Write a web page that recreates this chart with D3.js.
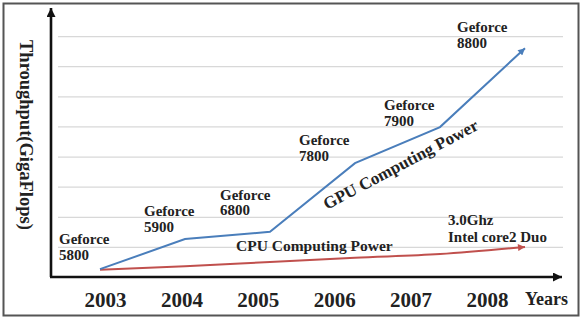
<!DOCTYPE html>
<html>
<head>
<meta charset="utf-8">
<script src="https://cdn.jsdelivr.net/npm/d3@7"></script>
<style>
  html, body { margin: 0; padding: 0; background: #fff; }
  svg { display: block; font-family: "Liberation Serif", "Times New Roman", serif; }
</style>
</head>
<body>
<svg id="viz" width="583" height="320"></svg>
<script>
// data (grid step = 50 units, values are estimates)
const years = [2003, 2004, 2005, 2006, 2007, 2008];
const gpuPower = [13, 63, 75, 189, 249, 380];
const cpuPower = [12, 18, 25, 32, 38, 50];
const gpuNames = ["5800", "5900", "6800", "7800", "7900", "8800"];
const gridTicks = [50, 100, 150, 200, 250, 300, 350, 400];

const svg = d3.select("#viz");
const ink = "#222";

// outer frame
svg.append("rect")
  .attr("x", 3.5).attr("y", 3.5)
  .attr("width", 575).attr("height", 312)
  .attr("fill", "#fff")
  .attr("stroke", "#555")
  .attr("stroke-width", 2);

const x = d3.scaleLinear().domain([2003, 2008]).range([100, 525]);
const xLabel = d3.scaleLinear().domain([2003, 2008]).range([105, 487]);
const y = d3.scaleLinear().domain([0, 450]).range([277, 6]);

// arrow markers
const defs = svg.append("defs");
function marker(id, color, w, h) {
  defs.append("marker")
    .attr("id", id)
    .attr("viewBox", "0 0 10 10")
    .attr("refX", 10).attr("refY", 5)
    .attr("markerUnits", "userSpaceOnUse")
    .attr("markerWidth", w).attr("markerHeight", h)
    .attr("orient", "auto")
    .append("path")
    .attr("d", "M0,0 L10,5 L0,10 Z")
    .attr("fill", color);
}
marker("axisArrow", "#111", 12, 9);
marker("gpuArrow", "#4a7ebb", 9, 7);
marker("cpuArrow", "#c0504d", 9, 7);

// gridlines via axis
const grid = svg.append("g")
  .attr("transform", "translate(58,0)")
  .call(d3.axisRight(y).tickValues(gridTicks).tickSize(505).tickFormat(""));
grid.select(".domain").remove();
grid.selectAll("line").attr("stroke", "#d8d8d8").attr("stroke-width", 1.2);

// axes with arrows
svg.append("line")
  .attr("x1", 51).attr("y1", 277).attr("x2", 51).attr("y2", 8)
  .attr("stroke", "#111").attr("stroke-width", 2.6)
  .attr("marker-end", "url(#axisArrow)");
svg.append("line")
  .attr("x1", 50).attr("y1", 277).attr("x2", 562).attr("y2", 277)
  .attr("stroke", "#111").attr("stroke-width", 2.6)
  .attr("marker-end", "url(#axisArrow)");

// year labels
const xAxis = svg.append("g")
  .attr("transform", "translate(0,277)")
  .call(d3.axisBottom(xLabel).tickValues(years).tickSize(0).tickFormat(d3.format("d")));
xAxis.select(".domain").remove();
xAxis.selectAll("text")
  .attr("y", 30).attr("dy", 0)
  .attr("fill", ink)
  .style("font-family", "'Liberation Serif', serif")
  .style("font-weight", "bold")
  .style("font-size", "21px");

svg.append("text")
  .attr("x", 525).attr("y", 305)
  .attr("fill", ink)
  .style("font-weight", "bold").style("font-size", "18px")
  .text("Years");

// y title
svg.append("text")
  .attr("transform", "translate(20,40) rotate(90)")
  .attr("fill", ink)
  .style("font-weight", "bold").style("font-size", "18.5px")
  .text("Throughput(GigaFlops)");

// series
const line = d3.line().x((d, i) => x(years[i])).y(d => y(d));

svg.append("path")
  .datum(cpuPower)
  .attr("d", line.curve(d3.curveMonotoneX))
  .attr("fill", "none")
  .attr("stroke", "#c0504d").attr("stroke-width", 2)
  .attr("marker-end", "url(#cpuArrow)");

svg.append("path")
  .datum(gpuPower)
  .attr("d", line.curve(d3.curveLinear))
  .attr("fill", "none")
  .attr("stroke", "#4a7ebb").attr("stroke-width", 2)
  .attr("marker-end", "url(#gpuArrow)");

// geforce labels, offset from each point
const labelOffsets = [[-41, -25], [-41, -23], [-50, -32], [-56, -18], [-56, -17], [-68, -16]];
const labels = svg.append("g")
  .attr("fill", ink)
  .style("font-weight", "bold").style("font-size", "15px");
gpuNames.forEach((name, i) => {
  const t = labels.append("text")
    .attr("x", x(years[i]) + labelOffsets[i][0])
    .attr("y", y(gpuPower[i]) + labelOffsets[i][1]);
  t.append("tspan").text("Geforce");
  t.append("tspan")
    .attr("x", x(years[i]) + labelOffsets[i][0])
    .attr("dy", 15.5)
    .text(name);
});

// cpu end label
const cpuLbl = svg.append("text")
  .attr("fill", ink)
  .style("font-weight", "bold").style("font-size", "15px");
cpuLbl.append("tspan").attr("x", 448).attr("y", 225).text("3.0Ghz");
cpuLbl.append("tspan").attr("x", 448).attr("y", 242).text("Intel core2 Duo");

// series names
svg.append("text")
  .attr("x", 236).attr("y", 251)
  .attr("fill", ink)
  .style("font-weight", "bold").style("font-size", "15.5px")
  .text("CPU Computing Power");

svg.append("text")
  .attr("transform", "translate(327,210) rotate(-28)")
  .attr("fill", ink)
  .style("font-weight", "bold").style("font-size", "17px")
  .text("GPU Computing Power");
</script>
</body>
</html>
